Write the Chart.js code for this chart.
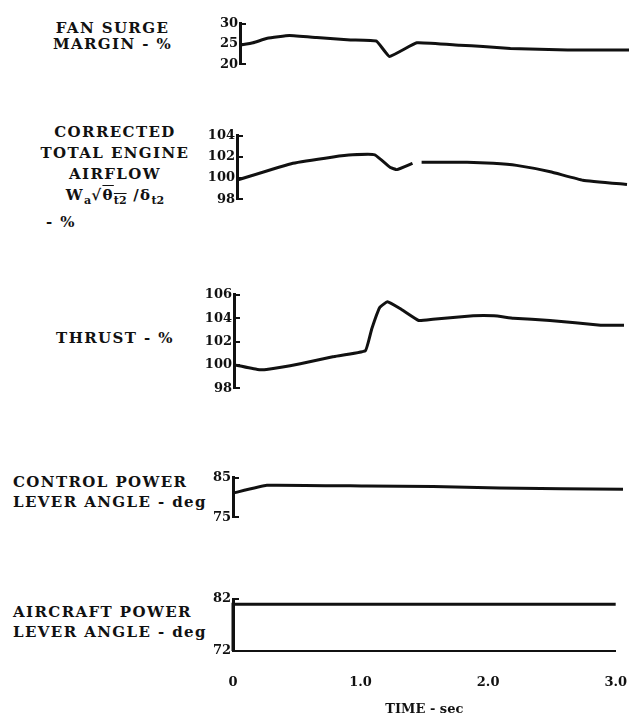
<!DOCTYPE html>
<html>
<head>
<meta charset="utf-8">
<script src="https://cdn.jsdelivr.net/npm/chart.js@4.4.0/dist/chart.umd.min.js"></script>
<style>
  body { margin: 0; background: #fff; width: 629px; height: 716px; overflow: hidden; position: relative;
         font-family: "DejaVu Serif", serif; font-weight: bold; color: #111; }
  .lbl { position: absolute; font-size: 15px; letter-spacing: 1.4px; white-space: nowrap; }
  .c { text-align: center; }
  canvas { position: absolute; }
  sub { font-size: 11px; letter-spacing: 0; }
  .ov { text-decoration: overline; }
</style>
</head>
<body>

<div class="lbl c" style="left:35px;top:20px;width:155px;line-height:16px">FAN SURGE<br>MARGIN - %</div>
<div class="lbl c" style="left:25px;top:122px;width:180px;line-height:21px">CORRECTED<br>TOTAL ENGINE<br>AIRFLOW<br>W<sub>a</sub>√<span class="ov">θ<sub>t2</sub></span> /δ<sub>t2</sub></div>
<div class="lbl" style="left:46px;top:214px;line-height:16px">- %</div>
<div class="lbl c" style="left:35px;top:330px;width:160px;line-height:16px">THRUST - %</div>
<div class="lbl" style="left:13px;top:472px;line-height:20px">CONTROL POWER<br>LEVER ANGLE - deg</div>
<div class="lbl" style="left:13px;top:602px;line-height:20px">AIRCRAFT POWER<br>LEVER ANGLE - deg</div>

<canvas id="c1"></canvas>
<canvas id="c2"></canvas>
<canvas id="c3"></canvas>
<canvas id="c4"></canvas>
<canvas id="c5"></canvas>

<script>
// time histories, seconds
const timeFan = [0, 0.1, 0.21, 0.38, 0.59, 0.85, 1.05, 1.15, 1.36, 1.69, 1.87, 2.08, 2.52, 3.0];
const fanSurgeMargin = [24.7, 25.3, 26.4, 27.1, 26.6, 26.0, 25.7, 21.9, 25.3, 24.7, 24.4, 23.9, 23.5, 23.5];

const timeAirflow = [0, 0.43, 0.74, 0.89, 1.06, 1.18, 1.23, 1.35, 1.38, 1.42, 1.77, 1.97, 2.15, 2.41, 2.66, 3.0];
const correctedAirflow = [99.8, 101.4, 102.0, 102.2, 102.2, 101.0, 100.8, 101.4, null, 101.5, 101.5, 101.4, 101.2, 100.6, 99.8, 99.4];

const timeThrust = [0, 0.18, 0.25, 0.51, 0.76, 1.01, 1.06, 1.12, 1.18, 1.28, 1.42, 1.53, 1.84, 2.0, 2.15, 2.43, 2.82, 3.0];
const thrust = [100.0, 99.6, 99.6, 100.1, 100.7, 101.2, 103.1, 104.9, 105.4, 104.8, 103.8, 103.9, 104.2, 104.2, 104.0, 103.8, 103.4, 103.4];

const timeCpla = [0, 0.26, 1.03, 1.54, 2.05, 3.0];
const controlPla = [81.1, 83.1, 82.9, 82.8, 82.4, 82.1];

const timeApla = [0, 0, 3.0];
const aircraftPla = [72, 81, 81];

const fanTicks = [20, 25, 30];
const airflowTicks = [98, 100, 102, 104];
const thrustTicks = [98, 100, 102, 104, 106];
const cplaTicks = [75, 85];
const aplaTicks = [72, 82];
const timeTicks = [0, 1, 2, 3];
const timeLabels = ['0', '1.0', '2.0', '3.0'];

const INK = '#111';
const tickFont = { family: 'DejaVu Serif', weight: 'bold', size: 13 };
const AXIS_W = 40;   // room for the y tick labels
const PAD = 10;      // fixed inset below each plot
const TIME_H = 76;   // height of the time axis under the last plot

function toPoints(t, v) {
  return t.map((x, i) => ({ x: x, y: v[i] }));
}

function makePanel(id, o) {
  const cv = document.getElementById(id);
  const showTime = !!o.showTime;
  // the bottom panel gets extra headroom so the time axis is not squeezed
  const padTop = showTime ? 40 : PAD;
  const h = (o.bottom - o.top) + padTop + (showTime ? TIME_H : PAD);
  cv.width = AXIS_W + 390 + 20;
  cv.height = h;
  cv.style.left = (o.axisX - AXIS_W) + 'px';
  cv.style.top = (o.top - padTop) + 'px';

  new Chart(cv, {
    type: 'line',
    data: {
      datasets: [{
        data: toPoints(o.t, o.v),
        borderColor: INK,
        borderWidth: 3,
        pointRadius: 0,
        tension: o.tension === undefined ? 0.1 : o.tension,
        spanGaps: false,
        clip: false
      }]
    },
    options: {
      responsive: false,
      animation: false,
      layout: { padding: { top: padTop, bottom: showTime ? 0 : PAD, left: 0, right: 20 } },
      plugins: { legend: { display: false }, tooltip: { enabled: false } },
      scales: {
        x: {
          type: 'linear', min: 0, max: 3,
          display: showTime,
          afterBuildTicks: s => { s.ticks = timeTicks.map(v => ({ value: v })); },
          afterFit: s => { if (showTime) s.height = TIME_H; },
          ticks: {
            color: INK, font: tickFont, padding: 16,
            maxRotation: 0, autoSkip: false,
            callback: v => timeLabels[timeTicks.indexOf(v)]
          },
          grid: { display: false },
          border: { display: true, color: INK, width: 2 },
          title: {
            display: showTime, text: 'TIME - sec', color: INK,
            font: { family: 'DejaVu Serif', weight: 'bold', size: 13 },
            padding: { top: 20, bottom: 10 }
          }
        },
        y: {
          min: o.min, max: o.max,
          afterBuildTicks: s => { s.ticks = o.ticks.map(v => ({ value: v })); },
          afterFit: s => { s.width = AXIS_W; },
          ticks: { color: INK, font: tickFont, padding: 8 },
          grid: { drawOnChartArea: false, drawTicks: true, tickLength: -6, color: INK, lineWidth: 2 },
          border: { display: true, color: INK, width: 3 }
        }
      }
    }
  });
}

makePanel('c1', { axisX: 240, top: 18, bottom: 70, min: 20, max: 30, ticks: fanTicks, t: timeFan, v: fanSurgeMargin });
makePanel('c2', { axisX: 237, top: 130, bottom: 205, min: 98, max: 104, ticks: airflowTicks, t: timeAirflow, v: correctedAirflow });
makePanel('c3', { axisX: 234, top: 289, bottom: 394, min: 98, max: 106, ticks: thrustTicks, t: timeThrust, v: thrust });
makePanel('c4', { axisX: 233, top: 472, bottom: 523, min: 75, max: 85, ticks: cplaTicks, t: timeCpla, v: controlPla });
makePanel('c5', { axisX: 233, top: 599, bottom: 651, min: 72, max: 82, ticks: aplaTicks, t: timeApla, v: aircraftPla, tension: 0, showTime: true });
</script>
</body>
</html>
